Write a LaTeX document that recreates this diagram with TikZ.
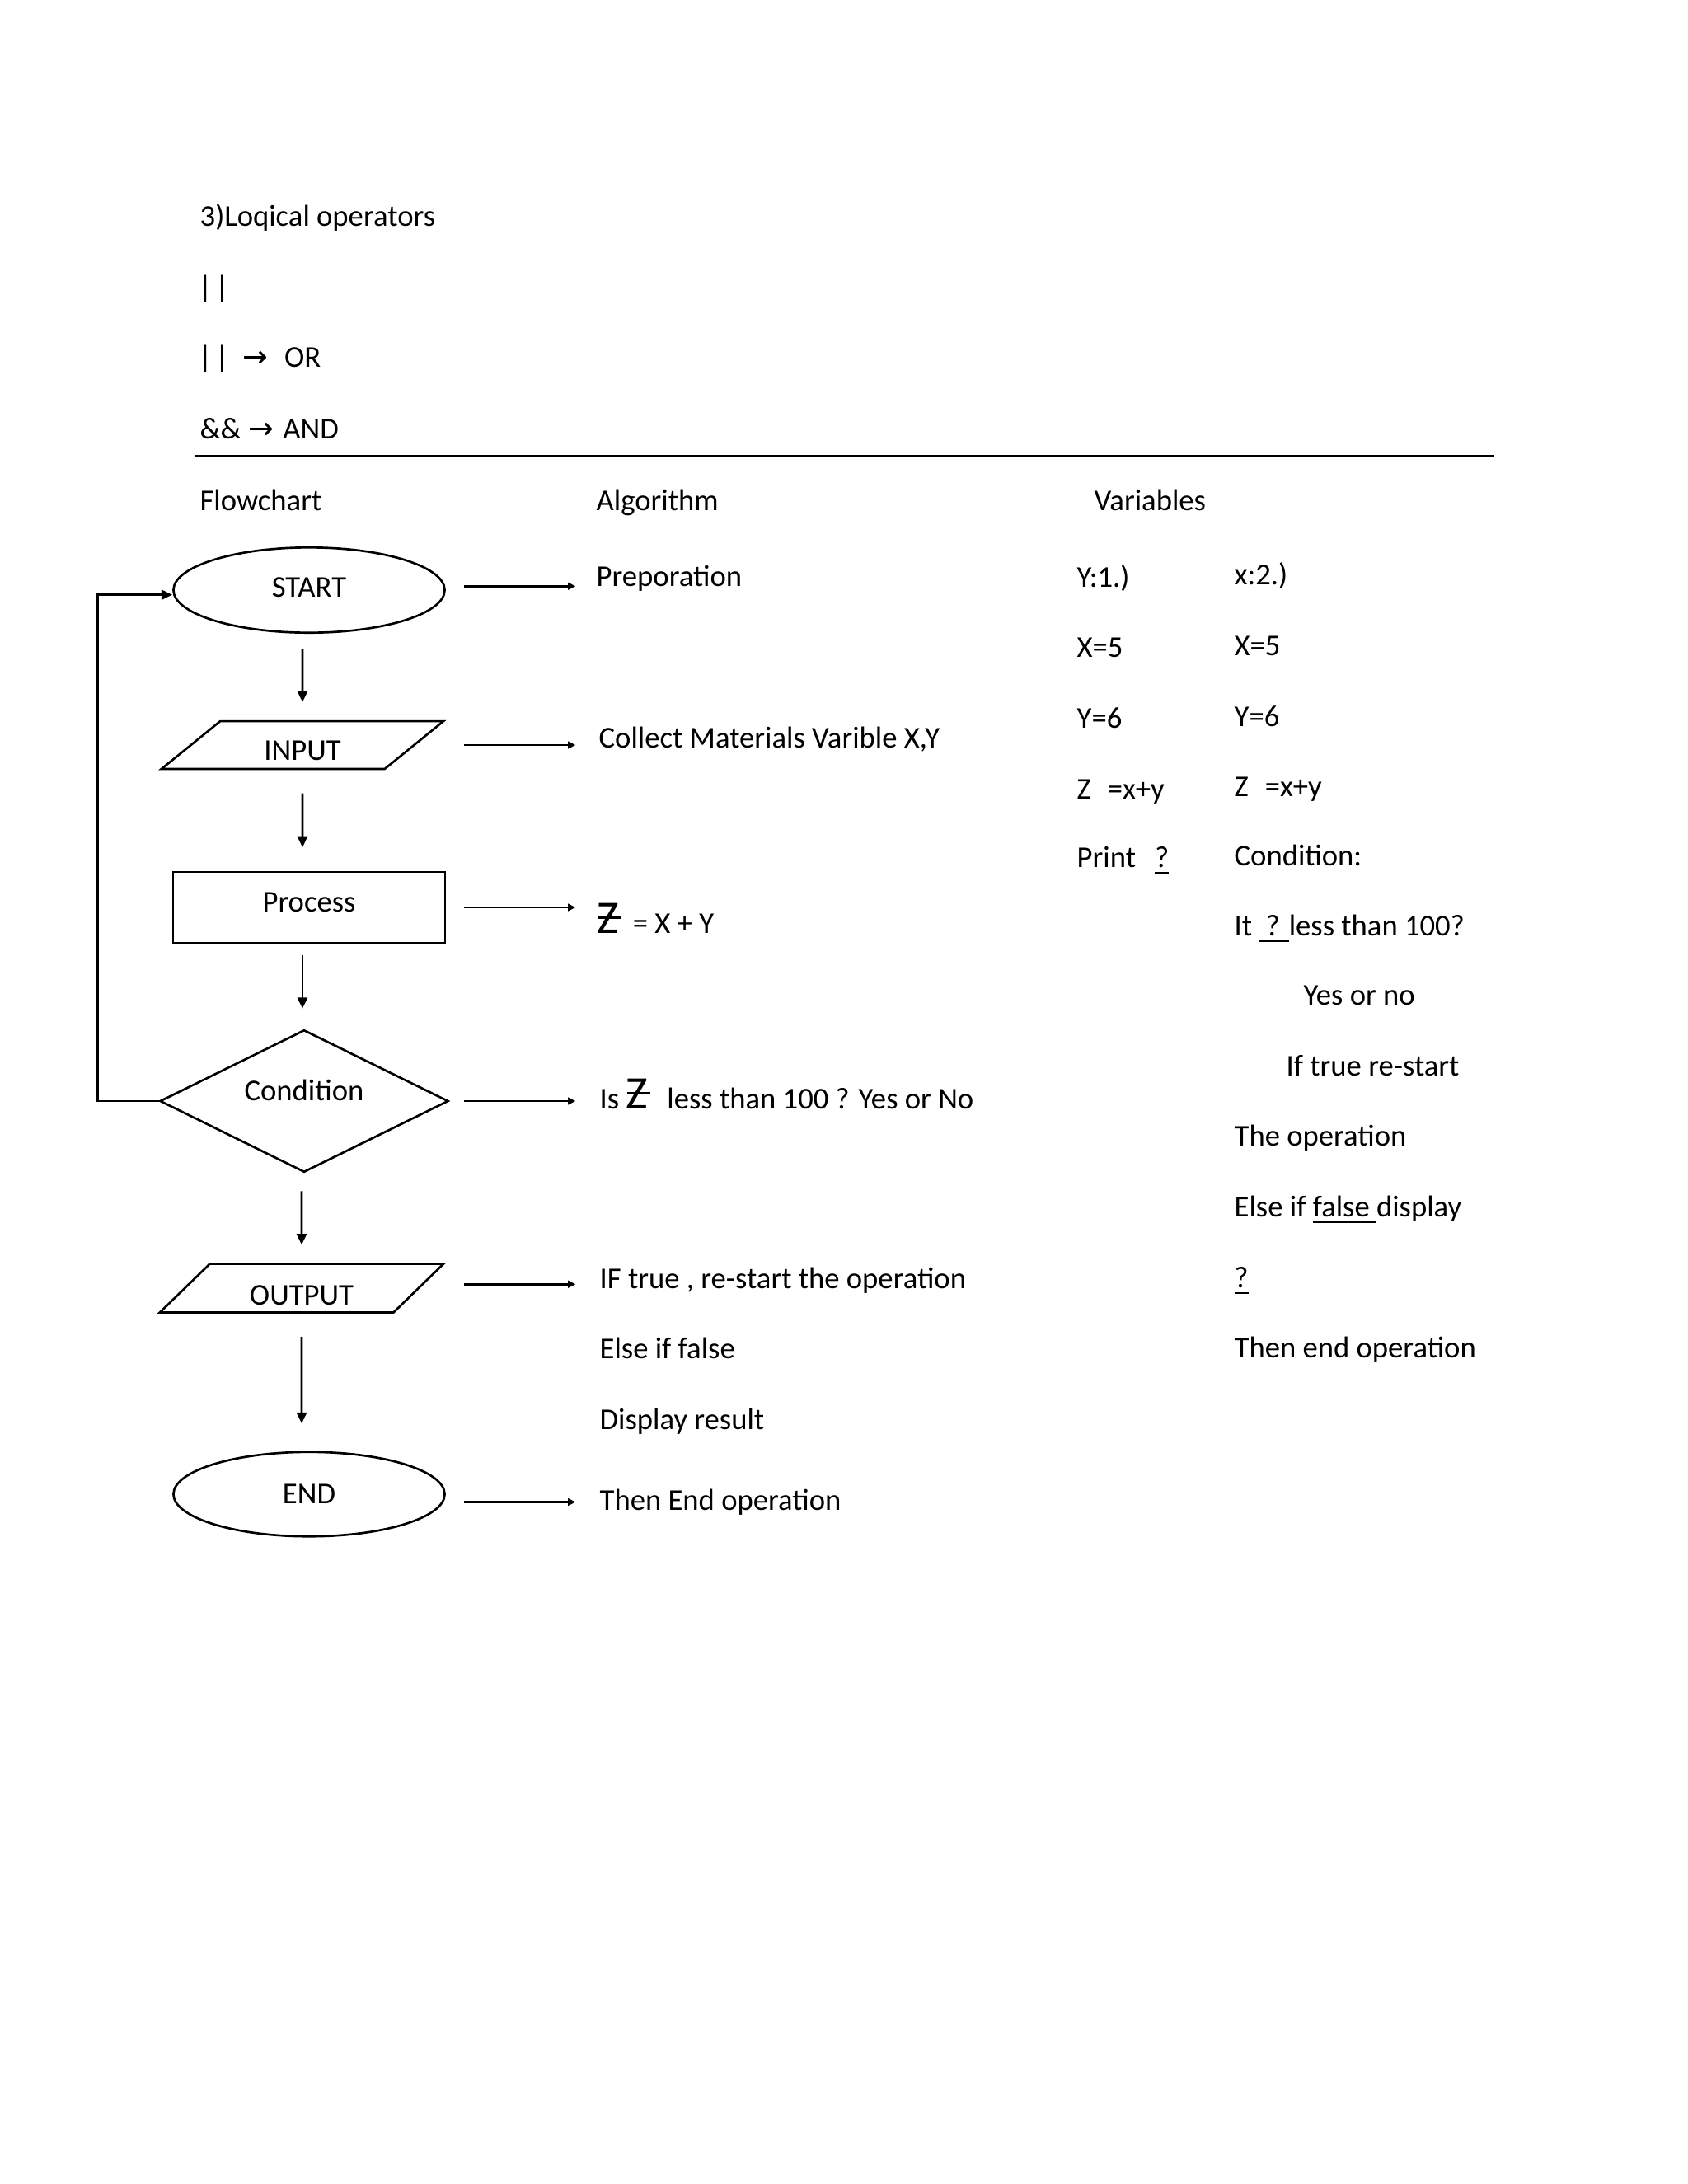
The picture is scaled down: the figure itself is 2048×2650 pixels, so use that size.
\documentclass[tikz,border=0pt]{standalone}
\usepackage{fontspec}
\setmainfont{Carlito}
\newfontfamily\arrowfont{DejaVu Sans}
\usetikzlibrary{shapes.geometric,arrows.meta}

\newcommand{\zstroke}{{\fontsize{17}{17}\selectfont\rlap{\kern0.02em\rule[0.3em]{0.5em}{0.06em}}Z}}
\newcommand{\ulin}[1]{\setbox0\hbox{#1}\rlap{\rule[-2.4pt]{\wd0}{0.6pt}}\box0}
\newcommand{\lift}[2]{\raisebox{#1}[\height][\depth]{#2}}

\begin{document}
\begin{tikzpicture}[x=0.010542cm,y=-0.010542cm,font=\fontsize{11}{13}\selectfont,
    flowarrow/.style={-{Triangle[length=4pt,width=3.6pt]},line width=0.8pt},
    sidearrow/.style={-{Triangle[length=2.8pt,width=2.6pt]},line width=0.8pt},
    ioshape/.style={trapezium,trapezium left angle=40.5,trapezium right angle=139.5,trapezium stretches=true}]

      \fill[white] (0,0) rectangle (2048,2650);

      \begin{scope}[every node/.style={anchor=base west,inner sep=0pt}]
        \node (title) at (242,274) {3)Loqical operators};
        \node (bars) at (240,360) {|\kern1pt|};
        \node (or) at (240,445) {|\kern1pt|\hspace{5pt}{\arrowfont →}\hspace{6pt}OR};
        \node (and) at (242,532) {\&\&\hspace{2.5pt}{\arrowfont →}\hspace{3.5pt}AND};
        \node (hflow) at (242,619) {Flowchart};
        \node (halgo) at (723,619) {Algorithm};
        \node (hvar) at (1327,619) {Variables};
      \end{scope}
      \draw[line width=0.9pt] (236,553) -- (1813,553);

      \begin{scope}[every node/.style={draw,line width=0.8pt,inner sep=1pt}]
        \node[ellipse,minimum width=3.47cm,minimum height=1.09cm] (start) at (375,716) {\lift{0.035cm}{START}};
        \node[ioshape,minimum width=3.62cm,minimum height=0.61cm] (input) at (367,904) {\lift{-0.07cm}{INPUT}};
        \node[rectangle,minimum width=3.48cm,minimum height=0.91cm] (process) at (375,1101) {\lift{0.07cm}{Process}};
        \node[diamond,aspect=2,minimum width=3.69cm,minimum height=1.82cm] (cond) at (369,1336) {\lift{0.14cm}{Condition}};
        \node[ioshape,minimum width=3.65cm,minimum height=0.62cm] (output) at (366,1563) {\lift{-0.09cm}{OUTPUT}};
        \node[ellipse,minimum width=3.47cm,minimum height=1.08cm] (stop) at (375,1813) {END};
      \end{scope}

      \begin{scope}[every node/.style={anchor=base west,inner sep=0pt}]
        \node (prep) at (723,711) {Preporation};
        \node (collect) at (726,907) {Collect Materials Varible X,Y};
        \node (sum) at (724,1132) {\zstroke\hspace{5pt}= X + Y};
        \node (check) at (727,1345) {Is \zstroke\hspace{7pt}less than 100 ? Yes or No};
        \node (restart) at (727,1563) {IF true , re-start the operation};
        \node (elsef) at (727,1648) {Else if false};
        \node (show) at (727,1734) {Display result};
        \node (finish) at (727,1832) {Then End operation};
      \end{scope}

      \begin{scope}[every node/.style={anchor=base west,inner sep=0pt}]
        \node (ya) at (1306,712) {Y:1.)};
        \node (xa) at (1306,797) {X=5};
        \node (yb) at (1306,883) {Y=6};
        \node (za) at (1306,969) {Z\hspace{6pt}=x+y};
        \node (print) at (1306,1052) {Print\hspace{7pt}\ulin{?}};
        \node (xb) at (1497,709) {x:2.)};
        \node (xc) at (1497,795) {X=5};
        \node (yc) at (1497,881) {Y=6};
        \node (zb) at (1497,966) {Z\hspace{6pt}=x+y};
        \node (condv) at (1497,1050) {Condition:};
        \node (less) at (1497,1135) {It \ulin{ ? }less than 100?};
        \node (yesno) at (1581,1219) {Yes or no};
        \node (iftrue) at (1560,1305) {If true re-start};
        \node (theop) at (1497,1390) {The operation};
        \node (elsed) at (1497,1476) {Else if \ulin{false }display};
        \node (qmark) at (1497,1562) {\ulin{?}};
        \node (endop) at (1497,1647) {Then end operation};
      \end{scope}

      \coordinate (ax) at (563,0);

      \begin{scope}[every edge/.style={draw,flowarrow}]
        \path (start.south -| input) edge[shorten <=0.2cm,shorten >=0.23cm] (input.north);
        \path (input.south) edge[shorten <=0.3cm,shorten >=0.3cm] (process.north -| input);
        \path (process.south -| input) edge[shorten <=0.14cm,shorten >=0.26cm] (cond.north -| input);
        \path (cond.south -| output) edge[shorten <=0.23cm,shorten >=0.23cm] (output.north);
        \path (output.south) edge[shorten <=0.3cm,shorten >=0.35cm] (stop.north -| output);
      \end{scope}

      \begin{scope}[every edge/.style={draw,sidearrow,shorten >=0.26cm}]
        \path ([yshift=0.05cm]start.east -| ax) edge ([yshift=0.05cm]start.east -| prep.west);
        \path (input.east -| ax) edge (input.east -| prep.west);
        \path (process.east -| ax) edge (process.east -| prep.west);
        \path (cond.east -| ax) edge (cond.east -| prep.west);
        \path ([yshift=0.05cm]output.east -| ax) edge ([yshift=0.05cm]output.east -| prep.west);
        \path ([yshift=-0.1cm]stop.east -| ax) edge ([yshift=-0.1cm]stop.east -| prep.west);
      \end{scope}

      \draw[flowarrow] (cond.west) -- ++(-74,0) |- ([yshift=-0.06cm]start.west);

    \end{tikzpicture}
\end{document}
